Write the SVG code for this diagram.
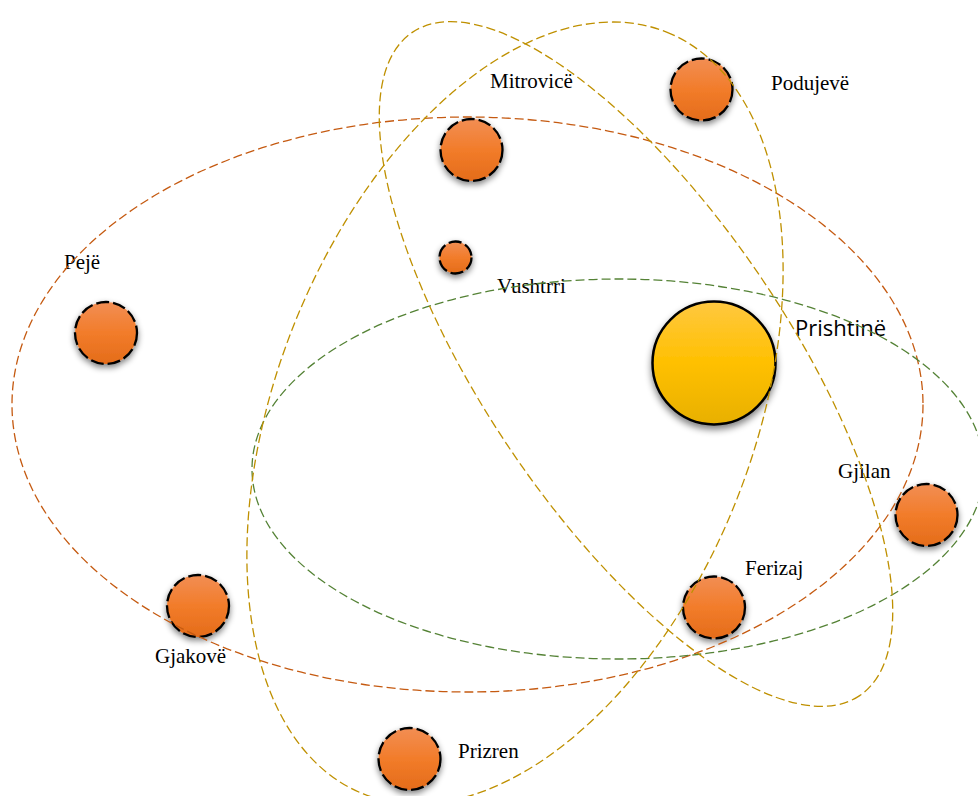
<svg xmlns="http://www.w3.org/2000/svg" width="978" height="796" viewBox="0 0 978 796">
  <style>
    .orbit { fill: none; stroke-width: 1.3; stroke-dasharray: 9 4; }
    .red { stroke: #C55A11; }
    .green { stroke: #548235; }
    .gold { stroke: #BF9000; }
    .town { fill: url(#orangeFill); stroke: #000; stroke-width: 2.3; stroke-dasharray: 13 4; filter: url(#softShadow); }
    .capital { fill: url(#sunFill); stroke: #000; stroke-width: 2.5; filter: url(#bigShadow); }
    .label { font-family: "Liberation Serif", "Times New Roman", serif; font-size: 21px; fill: #000; }
    .label-sans { font-family: "Open Sans", "Noto Sans", sans-serif; font-size: 22px; fill: #000; }
  </style>
  <defs>
    <linearGradient id="orangeFill" x1="0" y1="0" x2="0" y2="1">
      <stop offset="0" stop-color="#F28E54"/>
      <stop offset="0.5" stop-color="#F27C2A"/>
      <stop offset="1" stop-color="#E46C1A"/>
    </linearGradient>
    <linearGradient id="sunFill" x1="0" y1="0" x2="0" y2="1">
      <stop offset="0" stop-color="#FFC840"/>
      <stop offset="0.5" stop-color="#FFC000"/>
      <stop offset="1" stop-color="#E8B000"/>
    </linearGradient>
    <filter id="softShadow" x="-30%" y="-30%" width="160%" height="170%">
      <feGaussianBlur in="SourceAlpha" stdDeviation="3"/>
      <feOffset dx="0" dy="3" result="blur"/>
      <feComponentTransfer><feFuncA type="linear" slope="0.5"/></feComponentTransfer>
      <feMerge><feMergeNode/><feMergeNode in="SourceGraphic"/></feMerge>
    </filter>
    <filter id="bigShadow" x="-30%" y="-30%" width="160%" height="170%">
      <feGaussianBlur in="SourceAlpha" stdDeviation="3.5"/>
      <feOffset dx="0" dy="4" result="blur"/>
      <feComponentTransfer><feFuncA type="linear" slope="0.5"/></feComponentTransfer>
      <feMerge><feMergeNode/><feMergeNode in="SourceGraphic"/></feMerge>
    </filter>
  </defs>

  <rect width="978" height="796" fill="#fff"/>

  <!-- towns -->
  <g id="prishtine">
    <circle class="capital" cx="714" cy="363" r="61.5"/>
    <text class="label-sans" x="795" y="336">Prishtinë</text>
  </g>
  <g id="mitrovice">
    <circle class="town" cx="471.5" cy="150" r="31"/>
    <text class="label" x="490" y="88">Mitrovicë</text>
  </g>
  <g id="podujeve">
    <circle class="town" cx="701.5" cy="89.5" r="31"/>
    <text class="label" x="771" y="90">Podujevë</text>
  </g>
  <g id="vushtrri">
    <circle class="town" cx="455.5" cy="257.5" r="16"/>
    <text class="label" x="497" y="293">Vushtrri</text>
  </g>
  <g id="peje">
    <circle class="town" cx="106" cy="333" r="31"/>
    <text class="label" x="64" y="269">Pejë</text>
  </g>
  <g id="gjilan">
    <circle class="town" cx="926.5" cy="515" r="31"/>
    <text class="label" x="838" y="478">Gjilan</text>
  </g>
  <g id="ferizaj">
    <circle class="town" cx="714" cy="607.5" r="31"/>
    <text class="label" x="745" y="575">Ferizaj</text>
  </g>
  <g id="gjakove">
    <circle class="town" cx="198" cy="606" r="31"/>
    <text class="label" x="155" y="663">Gjakovë</text>
  </g>
  <g id="prizren">
    <circle class="town" cx="409.5" cy="759" r="31"/>
    <text class="label" x="458" y="758">Prizren</text>
  </g>

  <!-- dashed orbits linking the towns -->
  <g id="orbits">
    <ellipse class="orbit red" cx="467.5" cy="404.5" rx="455.5" ry="287.5"/>
    <ellipse class="orbit green" cx="618" cy="469" rx="366" ry="190"/>
    <ellipse class="orbit gold" cx="636" cy="364" rx="400" ry="152" transform="rotate(56 636 364)"/>
    <ellipse class="orbit gold" cx="515" cy="413" rx="410" ry="238" transform="rotate(-68.3 515 413)"/>
  </g>
</svg>
